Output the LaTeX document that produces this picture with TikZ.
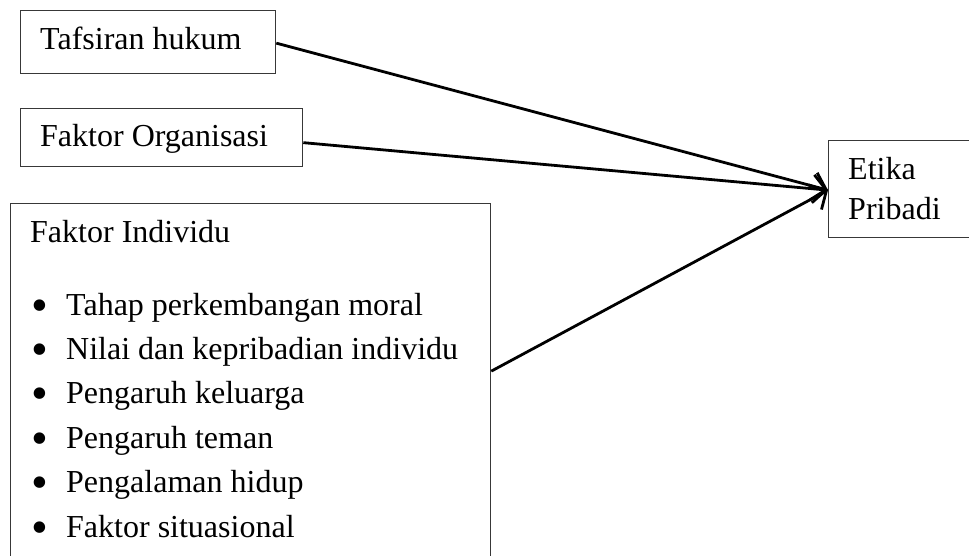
\documentclass[tikz,border=0pt]{standalone}
\usepackage{fontspec}
\usepackage{graphicx}
\setmainfont{Liberation Serif}
\usetikzlibrary{arrows.meta}
\newcommand{\bul}{\makebox[35pt][l]{\raisebox{-6pt}{\scalebox{1.5}{•}}}}
\begin{document}
\begin{tikzpicture}[x=1pt,y=1pt,
  box/.style={draw=black!78, line width=1.3pt, inner sep=0pt, anchor=north west},
  lbl/.style={inner sep=0pt, anchor=base west, font=\fontsize{32}{38}\selectfont},
  conn/.style={line width=2.8pt, -{Straight Barb[length=13pt,width=28pt,line width=2.8pt]}}]
\useasboundingbox (0,0) rectangle (969,-556);
\clip (0,0) rectangle (969,-556);
% boxes
\node[box, minimum width=255pt, minimum height=63pt] (tafsir) at (20,-10) {};
\node[box, minimum width=282pt, minimum height=58pt] (org) at (20,-108) {};
\node[box, minimum width=480pt, minimum height=367pt] (ind) at (10,-203) {};
\node[box, minimum width=160pt, minimum height=97pt] (etika) at (828,-140) {};
% texts
\node[lbl] (tafsirT) at (40,-50) {Tafsiran hukum};
\node[lbl] (orgT) at (40,-147) {Faktor Organisasi};
\node[lbl] (indT) at (30,-242) {Faktor Individu};
\node[lbl] (i1) at (31,-315) {\bul Tahap perkembangan moral};
\node[lbl] (i2) at (31,-359) {\bul Nilai dan kepribadian individu};
\node[lbl] (i3) at (31,-403) {\bul Pengaruh keluarga};
\node[lbl] (i4) at (31,-448) {\bul Pengaruh teman};
\node[lbl] (i5) at (31,-492) {\bul Pengalaman hidup};
\node[lbl] (i6) at (31,-537) {\bul Faktor situasional};
\node[lbl] (etikaT1) at (848,-180) {Etika};
\node[lbl] (etikaT2) at (848,-220) {Pribadi};
% connectors
\draw[conn] ([yshift=-1pt]tafsir.east) -- ([yshift=-1pt]etika.west);
\draw[conn] ([yshift=-5pt]org.east) -- ([yshift=-1pt]etika.west);
\draw[conn] ([yshift=16pt]ind.east) -- ([yshift=-1pt]etika.west);
\end{tikzpicture}
\end{document}
